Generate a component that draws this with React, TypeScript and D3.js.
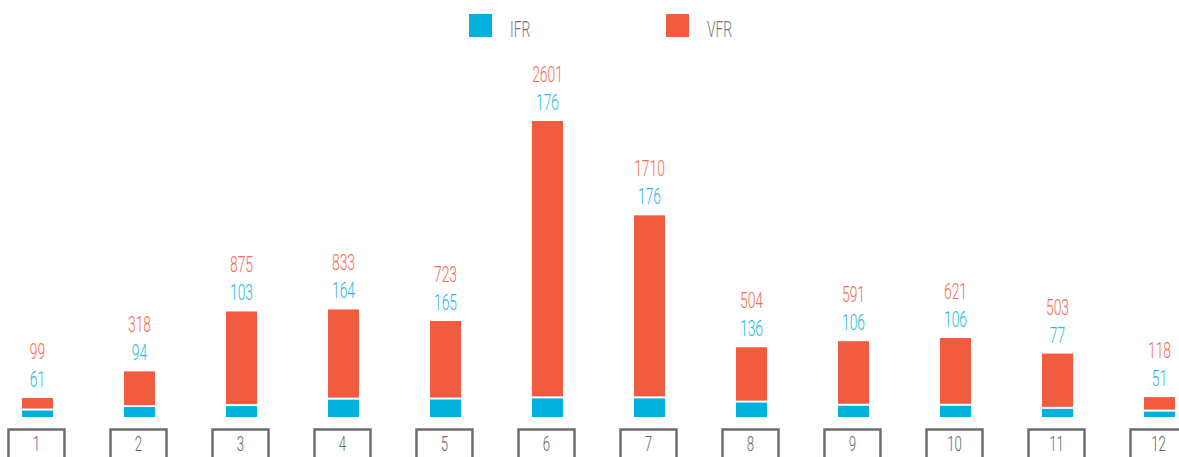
import React from "react";
import * as d3 from "d3";

const months = ["1", "2", "3", "4", "5", "6", "7", "8", "9", "10", "11", "12"];
const ifr = [61, 94, 103, 164, 165, 176, 176, 136, 106, 106, 77, 51];
const vfr = [99, 318, 875, 833, 723, 2601, 1710, 504, 591, 621, 503, 118];
const seriesNames = ["IFR", "VFR"];

const W = 1179;
const H = 457;
const BASE = 417;
const GAP = 2;
const BAR_W = 31;
const IFR_COLOR = "#00b1de";
const VFR_COLOR = "#f15b40";
const FONT = "Roboto, 'DejaVu Sans Condensed', sans-serif";
const SX = 0.63; // the original font is very condensed

export default function App() {
  const x = d3.scalePoint<string>().domain(months).range([37.5, 1159.5]);
  const maxTotal = d3.max(months, (_, i) => ifr[i] + vfr[i]) ?? 1;
  // height scale, the white gap between the two parts is added on top
  const h = d3.scaleLinear().domain([0, maxTotal]).range([0, BASE - 121 - GAP]);

  const label = (tx: number, ty: number, text: string, color: string, size: number, anchor = "middle") => (
    <text
      transform={`translate(${tx},${ty}) scale(${SX},1)`}
      textAnchor={anchor}
      fill={color}
      fontFamily={FONT}
      fontWeight={300}
      fontSize={size}
    >
      {text}
    </text>
  );

  return (
    <svg width={W} height={H} style={{ position: "absolute", left: 0, top: 0 }}>
      {/* legend */}
      <g>
        <rect x={469} y={14} width={23} height={23} fill={IFR_COLOR} />
        {label(510, 37, seriesNames[0], "#777", 22, "start")}
        <rect x={666} y={14} width={23} height={23} fill={VFR_COLOR} />
        {label(707, 37, seriesNames[1], "#777", 22, "start")}
      </g>

      {months.map((m, i) => {
        const cx = x(m) ?? 0;
        const hi = h(ifr[i]);
        const hv = h(vfr[i]);
        const ifrTop = BASE - hi;
        const vfrTop = ifrTop - GAP - hv;
        return (
          <g key={m}>
            <rect x={cx - BAR_W / 2} y={ifrTop} width={BAR_W} height={hi} fill={IFR_COLOR} />
            <rect x={cx - BAR_W / 2} y={vfrTop} width={BAR_W} height={hv} fill={VFR_COLOR} />
            {label(cx, vfrTop - 11, String(ifr[i]), "#29b9e4", 22)}
            {label(cx, vfrTop - 39, String(vfr[i]), "#f26b53", 22)}
            <rect
              x={cx - 29}
              y={429.5}
              width={56}
              height={40}
              fill="none"
              stroke="#6e6e6e"
              strokeWidth={2.5}
            />
            {label(cx - 1, 451, m, "#666", 21)}
          </g>
        );
      })}
    </svg>
  );
}
